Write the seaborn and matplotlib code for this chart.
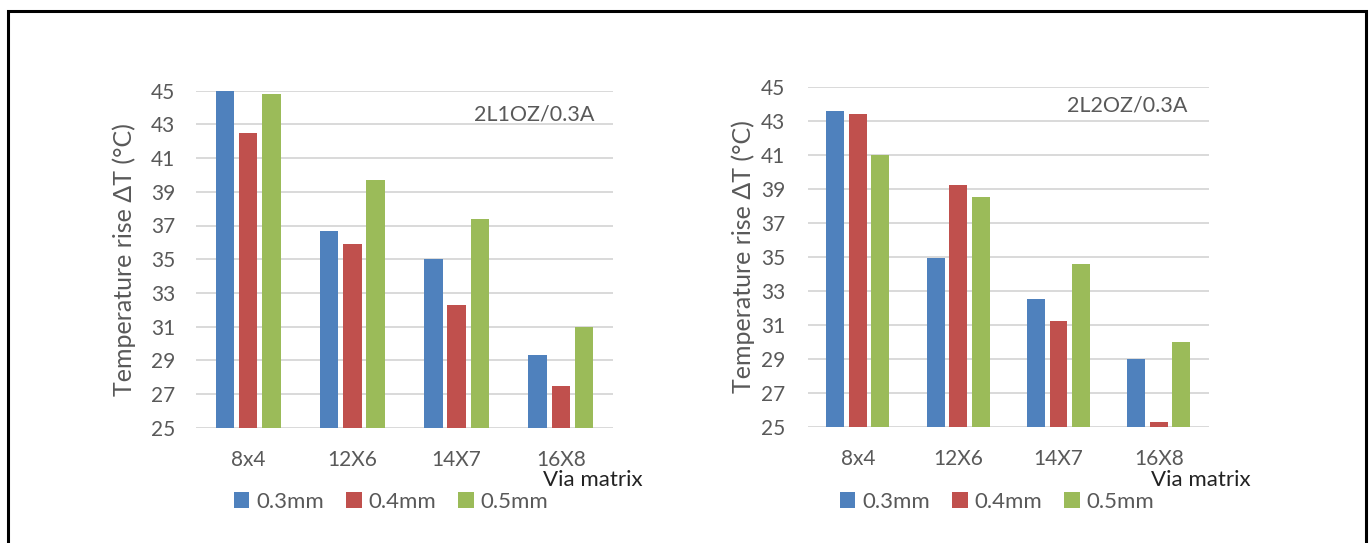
import matplotlib
matplotlib.use("Agg")
import matplotlib.pyplot as plt
from matplotlib.patches import Rectangle
import seaborn as sns
import pandas as pd

# Via matrix layouts and via drill diameters
categories = ["8x4", "12X6", "14X7", "16X8"]
diameters = ["0.3mm", "0.4mm", "0.5mm"]

# Temperature rise (°C), 2-layer 1 oz copper at 0.3 A
rise_1oz_03 = [45.0, 36.7, 35.0, 29.3]
rise_1oz_04 = [42.5, 35.9, 32.3, 27.5]
rise_1oz_05 = [44.8, 39.7, 37.4, 31.0]

# Temperature rise (°C), 2-layer 2 oz copper at 0.3 A
rise_2oz_03 = [43.6, 34.9, 32.5, 29.0]
rise_2oz_04 = [43.4, 39.2, 31.2, 25.3]
rise_2oz_05 = [41.0, 38.5, 34.6, 30.0]

y_ticks = list(range(25, 46, 2))
colors = ["#4F81BD", "#C0504D", "#9BBB59"]

sns.set_theme(style="white")
plt.rcParams["font.family"] = ["Lato", "DejaVu Sans"]

grey_text = "#595959"


def long_frame(series):
    rows = []
    for d, vals in zip(diameters, series):
        for c, v in zip(categories, vals):
            rows.append({"matrix": c, "diameter": d, "rise": v})
    return pd.DataFrame(rows)


fig = plt.figure(figsize=(13.70, 5.43), dpi=100)

# Outer frame around the figure
fig.patches.append(Rectangle((7.5 / 1370, -0.05), (1366 - 7.5) / 1370, 1.05 - 10.5 / 543,
                             transform=fig.transFigure, fill=False,
                             edgecolor="black", linewidth=2.2, zorder=10))

panels = [
    dict(rect=[196 / 1370, 115.3 / 543, 417 / 1370, 337 / 543],
         data=[rise_1oz_03, rise_1oz_04, rise_1oz_05],
         title="2L1OZ/0.3A", title_xy=(0.955, 0.93),
         via_x=643, legend_x=391, ylab_x=124, ypad=15.0),
    dict(rect=[807.7 / 1370, 116.3 / 543, 401.3 / 1370, 340 / 543],
         data=[rise_2oz_03, rise_2oz_04, rise_2oz_05],
         title="2L2OZ/0.3A", title_xy=(0.945, 0.945),
         via_x=1251, legend_x=997, ylab_x=743, ypad=16.0),
]

for p in panels:
    ax = fig.add_axes(p["rect"])
    df = long_frame(p["data"])
    sns.barplot(data=df, x="matrix", y="rise", hue="diameter",
                order=categories, hue_order=diameters, palette=colors,
                width=0.67, gap=0.2, saturation=1, linewidth=0,
                errorbar=None, ax=ax, zorder=3)
    ax.set_ylim(25, 45)
    ax.set_xlim(-0.5, 3.5)
    ax.set_yticks(y_ticks)
    ax.yaxis.grid(True, color="#D9D9D9", linewidth=1.4, zorder=0)
    ax.set_axisbelow(True)
    for s in ax.spines.values():
        s.set_visible(False)
    ax.tick_params(axis="both", length=0, labelsize=15, colors=grey_text)
    ax.tick_params(axis="y", pad=p["ypad"])
    ax.tick_params(axis="x", pad=16)
    ax.set_xlabel("")
    ax.set_ylabel("Temperature rise ΔT (°C)", fontsize=18, color=grey_text)
    # Place the axis title at a fixed horizontal position in figure pixels
    x_ax = (p["ylab_x"] - p["rect"][0] * 1370) / (p["rect"][2] * 1370)
    ax.yaxis.set_label_coords(x_ax, 0.5)
    ax.yaxis.label.set_verticalalignment("center")
    ax.text(*p["title_xy"], p["title"], transform=ax.transAxes, ha="right",
            va="center", fontsize=15.5, color=grey_text)

    handles, labels = ax.get_legend_handles_labels()
    ax.get_legend().remove()
    fig.legend(handles, labels, loc="center",
               bbox_to_anchor=(p["legend_x"] / 1370, 1 - 502 / 543),
               ncol=3, frameon=False, fontsize=16, labelcolor=grey_text,
               handlelength=0.7, handleheight=0.7, handletextpad=0.3,
               columnspacing=1.0)
    fig.text(p["via_x"] / 1370, 1 - 480 / 543, "Via matrix", ha="right",
             va="center", fontsize=16, color="#222222")

fig.savefig("out.png", dpi=100, facecolor="white")
